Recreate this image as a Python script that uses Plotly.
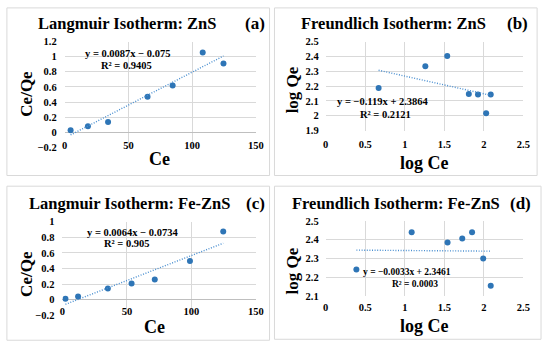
import plotly.graph_objects as go

W, H = 550, 354

# Data
a_ce = [4.6, 18.2, 34.0, 65.0, 84.7, 108.3, 124.6]
a_ceqe = [0.026, 0.081, 0.136, 0.47, 0.62, 1.055, 0.91]
a_slope, a_int = 0.0087, -0.075

b_logce = [0.669, 1.260, 1.537, 1.810, 1.926, 2.029, 2.087]
b_logqe = [2.187, 2.333, 2.402, 2.146, 2.143, 2.017, 2.143]
b_slope, b_int = -0.119, 2.3864

c_ce = [2.3, 12.1, 35.2, 53.6, 71.6, 98.9, 124.7]
c_ceqe = [0.012, 0.041, 0.145, 0.207, 0.261, 0.497, 0.874]
c_slope, c_int = 0.0064, -0.0734

d_logce = [0.388, 1.087, 1.541, 1.727, 1.851, 1.992, 2.087]
d_logqe = [2.241, 2.440, 2.386, 2.407, 2.440, 2.300, 2.155]
d_slope, d_int = -0.0033, 2.3461

titles = ["Langmuir Isotherm: ZnS", "Freundlich Isotherm: ZnS",
          "Langmuir Isotherm: Fe-ZnS", "Freundlich Isotherm: Fe-ZnS"]
tags = ["(a)", "(b)", "(c)", "(d)"]
eqs = [("y = 0.0087x \u2212 0.075", "R\u00b2 = 0.9405"),
       ("y = \u22120.119x + 2.3864", "R\u00b2 = 0.2121"),
       ("y = 0.0064x \u2212 0.0734", "R\u00b2 = 0.905"),
       ("y = \u22120.0033x + 2.3461", "R\u00b2 = 0.0003")]
xtitles = ["Ce", "log Ce", "Ce", "log Ce"]
ytitles = ["Ce/Qe", "log Qe", "Ce/Qe", "log Qe"]

FONT = "Liberation Serif, Times New Roman, serif"
BLUE = "#2E75B6"
GRID = "#d9d9d9"

def px(x):
    return x / W

def py(y):
    return 1 - y / H

fig = go.Figure()

panels = [
    dict(x=a_ce, y=a_ceqe, m=a_slope, c=a_int, xd=(63, 258), yd=(147, 37.7),
         xr=[0, 150], xdt=50, yr=[-0.2, 1.2], ydt=0.2, xstand=-10, ystand=7,
         box=(4, 3, 272, 176), title=(127, 19), tag=(257, 19),
         eq=[(127, 50.5), (126, 62.5)], eqsize=10.5,
         xt=(160, 159), yt=(24, 92)),
    dict(x=b_logce, y=b_logqe, m=b_slope, c=b_int, xd=(329.3, 531), yd=(129.7, 37.7),
         xr=[0, 2.5], xdt=0.5, yr=[1.9, 2.5], ydt=0.1, xstand=6, ystand=6,
         box=(277, 3, 545, 176), title=(398, 19), tag=(525, 19),
         eq=[(388, 100), (390, 113)], eqsize=10.5,
         xt=(430, 163), yt=(295, 88)),
    dict(x=c_ce, y=c_ceqe, m=c_slope, c=c_int, xd=(60.7, 258), yd=(320.3, 223.7),
         xr=[0, 150], xdt=50, yr=[-0.2, 1.0], ydt=0.2, xstand=-12, ystand=7,
         box=(4, 187, 272, 346), title=(129, 205), tag=(258, 205),
         eq=[(132, 234.5), (127, 246.5)], eqsize=10.5,
         xt=(155, 332), yt=(24, 278)),
    dict(x=d_logce, y=d_logqe, m=d_slope, c=d_int, xd=(329.3, 531), yd=(300.3, 223),
         xr=[0, 2.5], xdt=0.5, yr=[2.1, 2.5], ydt=0.1, xstand=4, ystand=6,
         box=(277, 187, 549, 345), title=(401, 205), tag=(528, 205),
         eq=[(412, 276), (420, 287.5)], eqsize=9.5,
         xt=(430, 331), yt=(295, 275)),
]

annotations = []
shapes = []
for i, p in enumerate(panels):
    n = "" if i == 0 else str(i + 1)
    xa = "x" + n
    ya = "y" + n
    xmin, xmax = min(p["x"]), max(p["x"])
    fig.add_trace(go.Scatter(x=p["x"], y=p["y"], mode="markers",
                             marker=dict(color=BLUE, size=6),
                             xaxis=xa, yaxis=ya, showlegend=False))
    fig.add_trace(go.Scatter(x=[xmin, xmax], y=[p["m"] * xmin + p["c"], p["m"] * xmax + p["c"]],
                             mode="lines", line=dict(color="#4a8fd0", width=1.4, dash="1px,1.6px"),
                             xaxis=xa, yaxis=ya, showlegend=False))
    tf = dict(family=FONT, size=10.5, color="black", weight="bold")
    axkw = dict(showgrid=True, gridcolor=GRID, gridwidth=1, zeroline=False,
                showline=False, ticks="", tickfont=tf)
    fig.layout["xaxis" + n] = dict(domain=[px(p["xd"][0]), px(p["xd"][1])],
                                   range=p["xr"], dtick=p["xdt"], tick0=0,
                                   anchor=ya, ticklabelstandoff=p["xstand"], **axkw)
    fig.layout["yaxis" + n] = dict(domain=[py(p["yd"][0]), py(p["yd"][1])],
                                   range=p["yr"], dtick=p["ydt"], tick0=0,
                                   anchor=xa, ticklabelstandoff=p["ystand"], **axkw)
    if p["yr"][0] < 0:
        fig.layout["yaxis" + n].zeroline = True
        fig.layout["yaxis" + n].zerolinecolor = "#bfbfbf"
        fig.layout["yaxis" + n].zerolinewidth = 1
    bx = p["box"]
    shapes.append(dict(type="rect", xref="paper", yref="paper",
                       x0=px(bx[0]), x1=px(bx[2]), y0=py(bx[3]), y1=py(bx[1]),
                       line=dict(color=GRID, width=1), layer="below"))
    annotations.append(dict(text=titles[i], x=px(p["title"][0]), y=py(p["title"][1]),
                            xref="paper", yref="paper", showarrow=False,
                            font=dict(family=FONT, size=16.5, color="black", weight="bold"),
                            xanchor="center", yanchor="middle"))
    annotations.append(dict(text=tags[i], x=px(p["tag"][0]), y=py(p["tag"][1]),
                            xref="paper", yref="paper", showarrow=False,
                            font=dict(family=FONT, size=17, color="black", weight="bold"),
                            xanchor="center", yanchor="middle"))
    for j, line in enumerate(eqs[i]):
        ex, ey = p["eq"][j]
        annotations.append(dict(text=line, x=px(ex), y=py(ey),
                                xref="paper", yref="paper", showarrow=False,
                                font=dict(family=FONT, size=p["eqsize"], color="black", weight="bold"),
                                xanchor="center", yanchor="middle"))
    annotations.append(dict(text=xtitles[i], x=px(p["xt"][0]), y=py(p["xt"][1]),
                            xref="paper", yref="paper", showarrow=False,
                            font=dict(family=FONT, size=18, color="black", weight="bold"),
                            xanchor="center", yanchor="middle"))
    annotations.append(dict(text=ytitles[i], x=px(p["yt"][0]), y=py(p["yt"][1]),
                            xref="paper", yref="paper", showarrow=False, textangle=-90,
                            font=dict(family=FONT, size=17, color="black", weight="bold"),
                            xanchor="center", yanchor="middle"))

fig.update_layout(width=W, height=H, margin=dict(l=0, r=0, t=0, b=0),
                  paper_bgcolor="white", plot_bgcolor="white",
                  annotations=annotations, shapes=shapes)

fig.write_html("out.html", config={"displayModeBar": False},
               post_script="document.body.style.margin='0';document.body.style.padding='0';")
